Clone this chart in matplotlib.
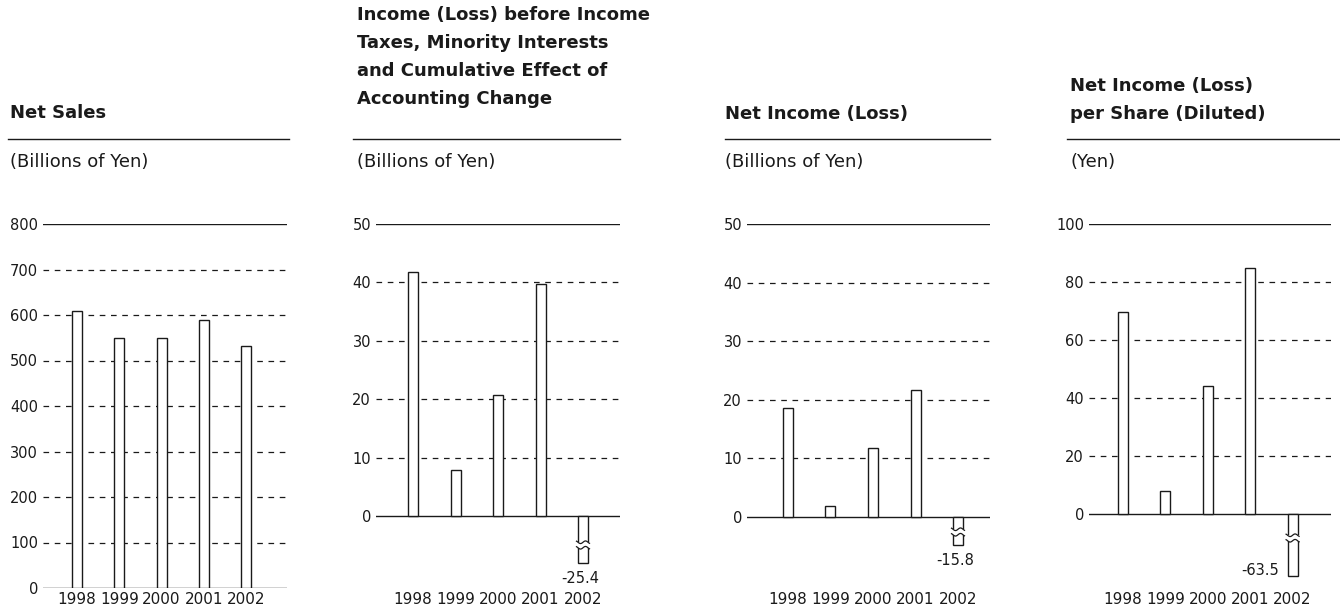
import numpy as np
import matplotlib
matplotlib.use("Agg")
import matplotlib.pyplot as plt
from matplotlib.lines import Line2D

# ── Datos ─────────────────────────────────────────────────────────────────────
YEARS = ["1998", "1999", "2000", "2001", "2002"]
NET_SALES = [609, 550, 550, 590, 532]
PRETAX_INCOME = [41.8, 7.8, 20.8, 39.8, -25.4]
NET_INCOME = [18.6, 1.8, 11.8, 21.6, -15.8]
EPS_DILUTED = [69.6, 8.1, 44.0, 85.0, -63.5]

TITLES = [
    "Net Sales",
    "Income (Loss) before Income\nTaxes, Minority Interests\nand Cumulative Effect of\nAccounting Change",
    "Net Income (Loss)",
    "Net Income (Loss)\nper Share (Diluted)",
]
UNITS = ["(Billions of Yen)", "(Billions of Yen)", "(Billions of Yen)", "(Yen)"]
YTICKS = [list(range(0, 801, 100)), list(range(0, 51, 10)),
          list(range(0, 51, 10)), list(range(0, 101, 20))]
SERIES = [NET_SALES, PRETAX_INCOME, NET_INCOME, EPS_DILUTED]

# ── Layout (pixels) ───────────────────────────────────────────────────────────
W, H = 1340, 610
AX_TOP, AX_BOT = 224, 588
LAYOUT = [
    # borde izq/der del eje, y del cero, centro 1a barra, paso entre barras,
    # título (x, y última línea), regla (x0, x1), corte (px bajo el cero, fondo px)
    dict(l=43, r=287, zero=588, c0=77, sp=42.3, tx=10, ty=113, rx0=8, rx1=289),
    dict(l=376, r=620, zero=516, c0=413, sp=42.5, tx=357, ty=99, rx0=353, rx1=620,
         brk=29, floor=47, lab="below"),
    dict(l=747, r=990, zero=517, c0=788, sp=42.5, tx=725, ty=114, rx0=725, rx1=990,
         brk=15, floor=28, lab="below"),
    dict(l=1089, r=1331, zero=514, c0=1123, sp=42.4, tx=1070, ty=114, rx0=1067, rx1=1340,
         brk=24, floor=62, lab="left"),
]
TITLE_LS = 28   # px entre líneas del título
BAR_PX = 10
INK = "#1a1a1a"

plt.rcParams["font.family"] = ["DejaVu Sans"]

fig = plt.figure(figsize=(W / 100, H / 100), dpi=100)
fig.patch.set_facecolor("white")


def fx(px):
    return px / W


def fy(py):
    return 1 - py / H


for i, (lay, vals) in enumerate(zip(LAYOUT, SERIES)):
    ticks = YTICKS[i]
    ymax = ticks[-1]
    px_per = (lay["zero"] - AX_TOP) / ymax
    ymin = -(AX_BOT - lay["zero"]) / px_per

    ax = fig.add_axes([fx(lay["l"]), fy(AX_BOT), fx(lay["r"] - lay["l"]),
                       (AX_BOT - AX_TOP) / H])
    x0 = (lay["l"] - lay["c0"]) / lay["sp"]
    x1 = (lay["r"] - lay["c0"]) / lay["sp"]
    ax.set_xlim(x0, x1)
    ax.set_ylim(ymin, ymax)
    for s in ax.spines.values():
        s.set_visible(False)

    # líneas de referencia
    for t in ticks:
        if t == ymax or t == 0:
            ax.axhline(t, color=INK, lw=1.0, zorder=2)
        else:
            ax.axhline(t, color=INK, lw=0.9, ls=(0, (4.5, 4.5)), zorder=1)

    ax.set_yticks(ticks)
    ax.set_yticklabels([str(t) for t in ticks], fontsize=10.5, color=INK)
    ax.set_xticks(range(len(YEARS)))
    ax.set_xticklabels(YEARS, fontsize=11, color=INK)
    ax.tick_params(axis="y", length=0, pad=3.6)
    ax.tick_params(axis="x", length=0, pad=3)

    # barras (las negativas se cortan con un símbolo de ruptura)
    bw = BAR_PX / lay["sp"]
    vals = np.array(vals, dtype=float)
    if "floor" in lay:
        floor = -lay["floor"] / px_per
        shown = np.maximum(vals, floor)
    else:
        shown = vals
    ax.bar(range(len(vals)), shown, width=bw, facecolor="white",
           edgecolor=INK, linewidth=1.0, zorder=3)

    for j, v in enumerate(vals):
        if v >= 0 or "floor" not in lay:
            continue
        yb = -lay["brk"] / px_per
        gap = 5.5 / px_per
        amp = 1.3 / px_per
        ax.fill_between([j - bw * 0.7, j + bw * 0.7], yb - gap / 2, yb + gap / 2,
                        color="white", zorder=4, lw=0)
        xs = np.linspace(j - bw * 0.65, j + bw * 0.65, 30)
        wave = amp * np.sin((xs - j) / bw * 2 * np.pi)
        for off in (-gap / 2, gap / 2):
            ax.plot(xs, yb + off + wave, color=INK, lw=0.9, zorder=5)
        if lay["lab"] == "below":
            ax.annotate(f"{v:.1f}", (j, shown[j]), xytext=(-2, -6),
                        textcoords="offset points", ha="center", va="top",
                        fontsize=10.5, color=INK)
        else:
            ax.annotate(f"{v:.1f}", (j - bw / 2, shown[j]), xytext=(-6, 4),
                        textcoords="offset points", ha="right", va="center",
                        fontsize=10.5, color=INK)

    # encabezado del panel
    lines = TITLES[i].split("\n")
    for k, line in enumerate(lines):
        ty = lay["ty"] - (len(lines) - 1 - k) * TITLE_LS
        fig.text(fx(lay["tx"]), fy(ty), line, fontsize=13, fontweight="bold",
                 color=INK, ha="left", va="center")
    fig.add_artist(Line2D([fx(lay["rx0"]), fx(lay["rx1"])], [fy(139), fy(139)],
                          color=INK, lw=1.0))
    fig.text(fx(lay["tx"]), fy(162), UNITS[i], fontsize=13, color=INK,
             ha="left", va="center")

fig.savefig("out.png", dpi=100, facecolor="white")
